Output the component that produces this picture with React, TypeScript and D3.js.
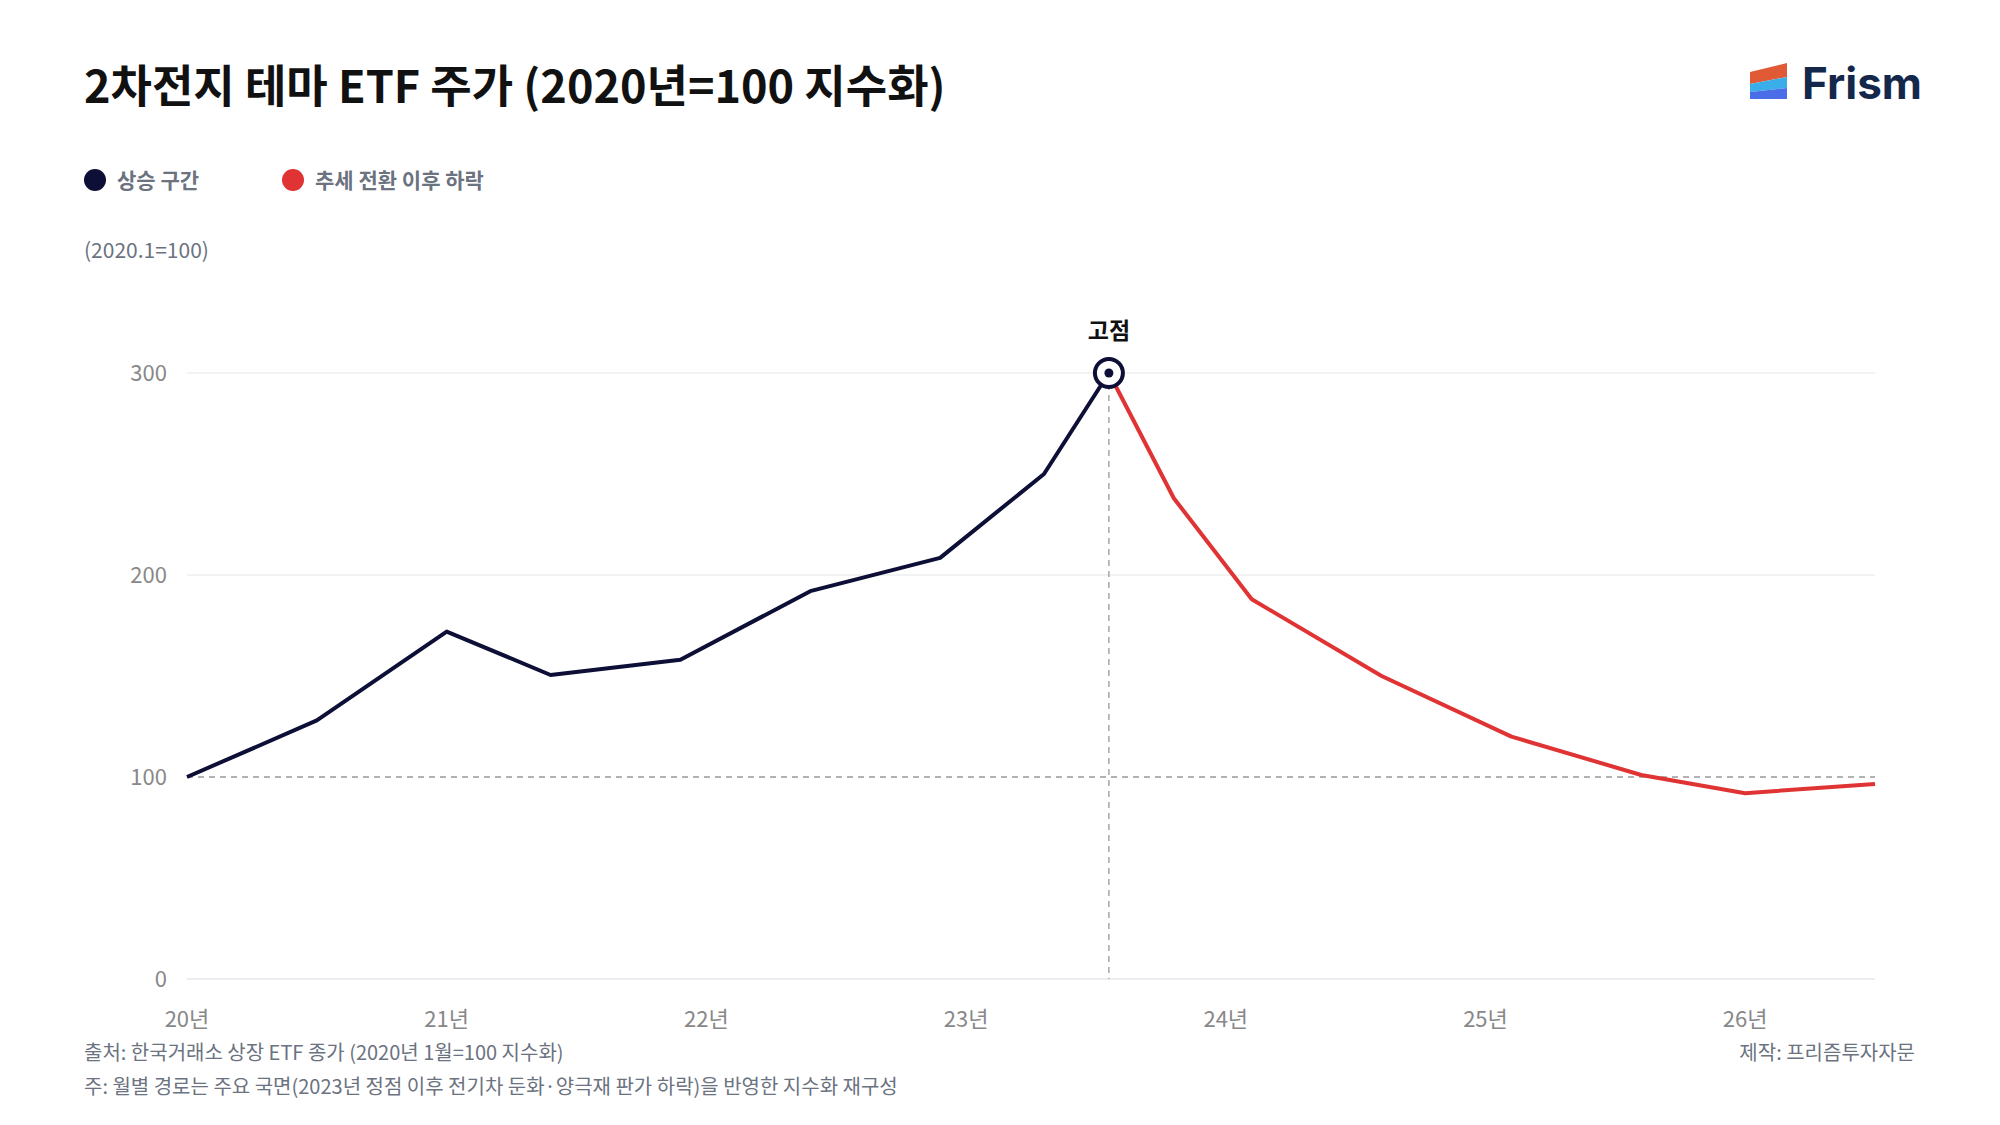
import React from "react";
import * as d3 from "d3";

const times = [0, 0.5, 1.0, 1.4, 1.9, 2.4, 2.9, 3.3, 3.55, 3.8, 4.1, 4.6, 5.1, 5.6, 6.0, 6.5];
const values = [100, 128, 172, 150.5, 158, 192, 208.5, 250, 300, 238, 188, 150, 120, 101, 92, 96.5];
const peakIndex = 8;
const yTicks = [0, 100, 200, 300];
const xTickYears = [0, 1, 2, 3, 4, 5, 6];
const xTickLabels = ["20년", "21년", "22년", "23년", "24년", "25년", "26년"];

const FONT = "'Noto Sans CJK KR', 'Noto Sans', sans-serif";

export default function App() {
  const W = 2000, H = 1125;
  const x = d3.scaleLinear().domain([0, 6.5]).range([187, 1875]);
  const y = d3.scaleLinear().domain([0, 300]).range([979, 373]);
  const line = d3.line<number>().x((_, i) => x(times[i])).y((v) => y(v));
  const up = values.slice(0, peakIndex + 1);
  const downIdx = values.map((_, i) => i).slice(peakIndex);
  const downLine = d3.line<number>().x((i) => x(times[i])).y((i) => y(values[i]));
  const px = x(times[peakIndex]), py = y(values[peakIndex]);
  return (
    <svg width={W} height={H} style={{ display: "block", position: "absolute", left: 0, top: 0, background: "#fff" }} fontFamily={FONT}>
      <rect width={W} height={H} fill="#fff" />
      <text x={84} y={103} fontSize={45} fontWeight={700} fill="#111">2차전지 테마 ETF 주가 (2020년=100 지수화)</text>
      {/* logo */}
      <polygon points="1750,72 1787,63 1787,77 1750,84" fill="#e05a35" />
      <polygon points="1750,84 1787,77 1787,88 1750,92" fill="#3aaee8" />
      <polygon points="1750,92 1787,88 1787,99 1750,99" fill="#4a6ee8" />
      <text x={1802} y={99} fontSize={44} fontWeight={700} fill="#14284b" fontFamily="Inter, 'Noto Sans', sans-serif">Frism</text>
      {/* legend */}
      <circle cx={95} cy={180} r={11} fill="#0d0f36" />
      <text x={117} y={188} fontSize={21} fontWeight={700} fill="#6b7280">상승 구간</text>
      <circle cx={293} cy={180} r={11} fill="#e03333" />
      <text x={315} y={188} fontSize={21} fontWeight={700} fill="#6b7280">추세 전환 이후 하락</text>
      <text x={84} y={258} fontSize={21} fill="#6b7280">(2020.1=100)</text>
      {/* grid */}
      {yTicks.map((t) => (
        <g key={t}>
          {t !== 100 && <line x1={187} x2={1875} y1={y(t)} y2={y(t)} stroke={t === 0 ? "#d8dbe3" : "#e3e5ea"} strokeWidth={1.2} />}
          <text x={167} y={y(t) + 8} textAnchor="end" fontSize={22} fill="#888">{t}</text>
        </g>
      ))}
      <line x1={187} x2={1875} y1={y(100)} y2={y(100)} stroke="#999" strokeWidth={1.3} strokeDasharray="6,5" />
      <line x1={px} x2={px} y1={py} y2={y(0)} stroke="#999" strokeWidth={1.3} strokeDasharray="6,5" />
      {xTickYears.map((t, i) => (
        <text key={t} x={x(t)} y={1027} textAnchor="middle" fontSize={22} fill="#888">{xTickLabels[i]}</text>
      ))}
      <path d={line(up) || ""} fill="none" stroke="#0d0f36" strokeWidth={4} strokeLinejoin="round" />
      <path d={downLine(downIdx) || ""} fill="none" stroke="#e03333" strokeWidth={4} strokeLinejoin="round" />
      <circle cx={px} cy={py} r={14} fill="#fff" stroke="#0d0f36" strokeWidth={4} />
      <circle cx={px} cy={py} r={4.5} fill="#0d0f36" />
      <text x={px} y={339} textAnchor="middle" fontSize={23} fontWeight={700} fill="#111">고점</text>
      <text x={84} y={1060} fontSize={20} fill="#6b7280">출처: 한국거래소 상장 ETF 종가 (2020년 1월=100 지수화)</text>
      <text x={84} y={1094} fontSize={20} fill="#6b7280">주: 월별 경로는 주요 국면(2023년 정점 이후 전기차 둔화·양극재 판가 하락)을 반영한 지수화 재구성</text>
      <text x={1915} y={1060} textAnchor="end" fontSize={20} fill="#6b7280">제작: 프리즘투자자문</text>
    </svg>
  );
}
